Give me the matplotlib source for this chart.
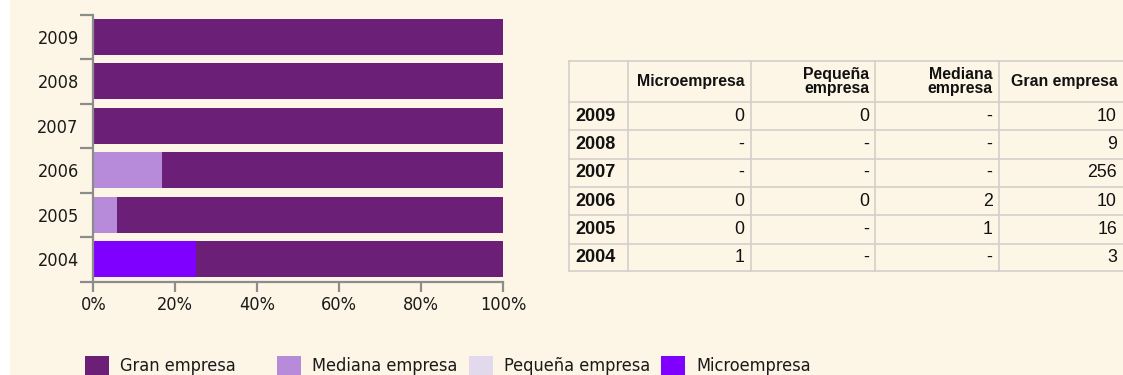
import numpy as np
import matplotlib
matplotlib.use("Agg")
import matplotlib.pyplot as plt
from matplotlib.patches import Rectangle
from matplotlib.lines import Line2D

# ---- data -------------------------------------------------------------
years = ["2009", "2008", "2007", "2006", "2005", "2004"]
series = ["Microempresa", "Pequeña empresa", "Mediana empresa", "Gran empresa"]
micro = [0, np.nan, np.nan, 0, 0, 1]
pequena = [0, np.nan, np.nan, 0, np.nan, np.nan]
mediana = [np.nan, np.nan, np.nan, 2, 1, np.nan]
gran = [10, 9, 256, 10, 16, 3]
x_ticks = [0, 20, 40, 60, 80, 100]
x_tick_labels = ["0%", "20%", "40%", "60%", "80%", "100%"]

colors = {
    "Microempresa": "#8000FF",
    "Pequeña empresa": "#E2D9EC",
    "Mediana empresa": "#B78BD9",
    "Gran empresa": "#6C1F77",
}
legend_order = ["Gran empresa", "Mediana empresa", "Pequeña empresa", "Microempresa"]
header_labels = ["Microempresa", "Pequeña\nempresa", "Mediana\nempresa", "Gran empresa"]

BG = "#FDF5E6"
AXIS = "#8C8C8C"
GRID = "#D3CFCA"
W, H = 1123, 375

values = np.array([micro, pequena, mediana, gran], dtype=float)  # series x years
counts = np.nan_to_num(values)
shares = 100 * counts / counts.sum(axis=0)

fig = plt.figure(figsize=(W / 100, H / 100), dpi=100, facecolor=BG)


def fx(px):
    return px / W


def fy(py):
    return 1 - py / H


# white strip on the left edge
fig.add_artist(Rectangle((0, 0), fx(10), 1, transform=fig.transFigure,
                         facecolor="white", edgecolor="none", zorder=0))

# ---- stacked percentage bars -----------------------------------------
chart_font = dict(family="DejaVu Sans", stretch="condensed")
ax = fig.add_axes([fx(93.3), fy(281.7), fx(503.0) - fx(93.3), fy(14.7) - fy(281.7)])
ax.set_facecolor(BG)
pos = np.arange(len(years))[::-1]  # 2009 at the top
left = np.zeros(len(years))
for name, share in zip(series, shares):
    ax.barh(pos, share, left=left, height=0.81, color=colors[name],
            edgecolor="none", zorder=2)
    left += share

ax.set_xlim(0, 100)
ax.set_ylim(-0.5, len(years) - 0.5)
for s in ("top", "right"):
    ax.spines[s].set_visible(False)
for s in ("left", "bottom"):
    ax.spines[s].set_color(AXIS)
    ax.spines[s].set_linewidth(1.6)
    ax.spines[s].set_zorder(3)

ax.set_xticks(x_ticks)
ax.set_xticklabels(x_tick_labels, fontsize=13, color="#1a1a1a", **chart_font)
ax.tick_params(axis="x", length=7.5, width=1.6, color=AXIS, pad=2.5)

ax.set_yticks(pos)
ax.set_yticklabels(years, fontsize=13, color="#1a1a1a", **chart_font)
ax.tick_params(axis="y", which="major", length=0, pad=10.5)
ax.set_yticks(np.arange(len(years) + 1) - 0.5, minor=True)
ax.tick_params(axis="y", which="minor", length=9.5, width=1.6, color=AXIS)

# ---- legend -----------------------------------------------------------
for i, name in enumerate(legend_order):
    x0 = 85 + 192 * i
    fig.add_artist(Rectangle((fx(x0), fy(380)), fx(24), fy(356) - fy(380),
                             transform=fig.transFigure, facecolor=colors[name],
                             edgecolor="none"))
    fig.text(fx(x0 + 35), fy(371), name, fontsize=13, color="#1a1a1a",
             va="baseline", ha="left", **chart_font)

# ---- data table ---------------------------------------------------------
col_edges = [569.3, 627.7, 751.0, 875.3, 999.0, 1123.5]
row_edges = [60.7, 102.0, 130.3, 158.6, 186.9, 215.2, 243.5, 271.0]

for y in row_edges:
    fig.add_artist(Line2D([fx(col_edges[0]), fx(W + 5)], [fy(y), fy(y)],
                          transform=fig.transFigure, color=GRID, lw=1.2))
for x in col_edges[:-1]:
    fig.add_artist(Line2D([fx(x), fx(x)], [fy(row_edges[0]), fy(row_edges[-1])],
                          transform=fig.transFigure, color=GRID, lw=1.2))

tbl_font = "Liberation Sans"
hy = (row_edges[0] + row_edges[1]) / 2
for j, lab in enumerate(header_labels):
    fig.text(fx(col_edges[j + 2] - 6), fy(hy), lab, ha="right", va="center",
             family=tbl_font, fontweight="bold", fontsize=11.4, color="#111111",
             linespacing=0.92)

for i, yr in enumerate(years):
    cy = (row_edges[i + 1] + row_edges[i + 2]) / 2
    fig.text(fx(575), fy(cy), yr, ha="left", va="center",
             family=tbl_font, fontweight="bold", fontsize=13, color="#111111")
    for j in range(len(series)):
        v = values[j, i]
        txt = "-" if np.isnan(v) else f"{int(v)}"
        fig.text(fx(col_edges[j + 2] - 6.5), fy(cy), txt, ha="right", va="center",
                 family=tbl_font, fontsize=12.8, color="#111111")

fig.savefig("out.png", dpi=100, facecolor=BG)
